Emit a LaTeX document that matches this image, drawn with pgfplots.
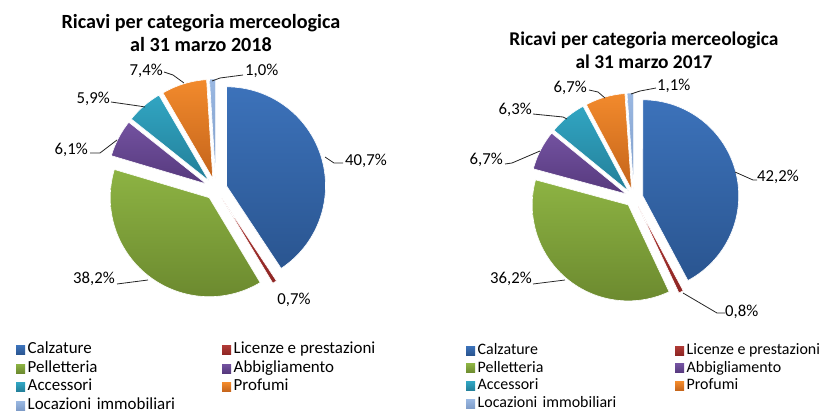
\documentclass[border=0pt]{standalone}
\usepackage{pgfplots}
\pgfplotsset{compat=1.18}
\usepackage{fontspec}
\setmainfont{Carlito}
\definecolor{c1t}{HTML}{3C72BA}\definecolor{c1b}{HTML}{2A5590}
\definecolor{c2t}{HTML}{B03A36}\definecolor{c2b}{HTML}{8E2624}
\definecolor{c3t}{HTML}{8DB343}\definecolor{c3b}{HTML}{6C8A2F}
\definecolor{c4t}{HTML}{7352A0}\definecolor{c4b}{HTML}{56397D}
\definecolor{c5t}{HTML}{31A5C2}\definecolor{c5b}{HTML}{237F99}
\definecolor{c6t}{HTML}{F28A2C}\definecolor{c6b}{HTML}{C4641B}
\definecolor{c7t}{HTML}{9AB8E2}\definecolor{c7b}{HTML}{7E9CC8}
\newcommand{\slice}[4]{%
  \pgfmathsetmacro{\aA}{\cum}%
  \pgfmathsetmacro{\aB}{\cum-3.6*#1}%
  \pgfmathsetmacro{\am}{(\aA+\aB)/2}%
  \pgfmathsetmacro{\sx}{\cx+\off*cos(\am)}%
  \pgfmathsetmacro{\sy}{\cy+\off*sin(\am)}%
  \edef\doslice{\noexpand\addplot[draw=white, line width=0.6bp, top color=#2, bottom color=#3, domain=\aB:\aA, samples=90, variable=\noexpand\t] ({\sx+\rad*cos(\noexpand\t)},{\sy+\rad*sin(\noexpand\t)}) -- (axis cs:\sx,\sy) -- cycle;}%
  \doslice
  \addlegendentry{#4}%
  \xdef\cum{\aB}%
}
\pgfplotsset{
  piebase/.style={x=1bp, y=1bp, xmin=0, xmax=829, ymin=0, ymax=412, hide axis, clip=false,
    legend columns=2, legend cell align=left,
    legend image code/.code={\path[##1, draw=none] (0bp,-4.5bp) rectangle (9bp,4.5bp);},
    legend style={draw=none, fill=none, inner sep=0pt, row sep=4bp, anchor=north west,
      nodes={inner xsep=2.5bp, inner ysep=0bp, text height=11bp, text depth=3.5bp}}},
  lead/.style={forget plot, black!85, line width=0.8bp}
}
\tikzset{
  lbl/.style={font=\fontsize{16.8}{19}\selectfont, inner sep=0pt}
}
\begin{document}
\begin{tikzpicture}
% ---------- 2018 ----------
\begin{axis}[piebase,
  legend style={at={(0.0193,0.1685)}, font=\fontsize{17}{19}\selectfont,
    /tikz/column 2/.append style={text width=192bp}}]
\def\cx{216}\def\cy{223}\def\rad{99}\def\off{11}\gdef\cum{90}
\slice{40.7}{c1t}{c1b}{Calzature}
\slice{0.7}{c2t}{c2b}{Licenze e prestazioni}
\slice{38.2}{c3t}{c3b}{Pelletteria}
\slice{6.1}{c4t}{c4b}{Abbigliamento}
\slice{5.9}{c5t}{c5b}{Accessori}
\slice{7.4}{c6t}{c6b}{Profumi}
\slice{1.0}{c7t}{c7b}{Locazioni immobiliari}
\addplot[lead] coordinates {(325,255) (334,249) (343,249)};
\addplot[lead] coordinates {(117,128) (148,132)};
\addplot[lead] coordinates {(90,259) (100,259) (117,272)};
\addplot[lead] coordinates {(111,310) (139,306) (145,305)};
\addplot[lead] coordinates {(164,340) (173,337) (184,329)};
\addplot[lead] coordinates {(212,331) (220,334) (243,337)};
\node[lbl, anchor=west] at (axis cs:345,251) {40,7\%};
\node[lbl, anchor=east] at (axis cs:115,133) {38,2\%};
\node[lbl] at (axis cs:294,112) {0,7\%};
\node[lbl, anchor=east] at (axis cs:88,262) {6,1\%};
\node[lbl, anchor=east] at (axis cs:110,313) {5,9\%};
\node[lbl, anchor=east] at (axis cs:163,341) {7,4\%};
\node[lbl, anchor=west] at (axis cs:245,341) {1,0\%};
\node[font=\bfseries\fontsize{20.2}{23.5}\selectfont, align=center, inner sep=0pt]
  at (axis cs:201,379) {Ricavi per categoria merceologica\\al 31 marzo 2018};
\end{axis}
% ---------- 2017 ----------
\begin{axis}[piebase,
  legend style={at={(0.5621,0.1672)}, font=\fontsize{16}{19}\selectfont, row sep=3.3bp,
    /tikz/column 2/.append style={text width=195bp}}]
\def\cx{634}\def\cy{214}\def\rad{96}\def\off{9}\gdef\cum{90}
\slice{42.2}{c1t}{c1b}{Calzature}
\slice{0.8}{c2t}{c2b}{Licenze e prestazioni}
\slice{36.2}{c3t}{c3b}{Pelletteria}
\slice{6.7}{c4t}{c4b}{Abbigliamento}
\slice{6.3}{c5t}{c5b}{Accessori}
\slice{6.7}{c6t}{c6b}{Profumi}
\slice{1.1}{c7t}{c7b}{Locazioni immobiliari}
\addplot[lead] coordinates {(735,240) (753,232) (757,232)};
\addplot[lead] coordinates {(533,128) (565,132)};
\addplot[lead] coordinates {(683,119) (717,99) (725,99)};
\addplot[lead] coordinates {(505,248) (512,249) (540,261)};
\addplot[lead] coordinates {(533,298) (563,295) (567,293)};
\addplot[lead] coordinates {(589,322) (598,320) (605,314)};
\addplot[lead] coordinates {(631,318) (640,321) (656,324)};
\node[lbl, anchor=west] at (axis cs:757,235) {42,2\%};
\node[lbl, anchor=east] at (axis cs:532,133) {36,2\%};
\node[lbl, anchor=west] at (axis cs:725,100) {0,8\%};
\node[lbl, anchor=east] at (axis cs:503,252) {6,7\%};
\node[lbl, anchor=east] at (axis cs:532,302) {6,3\%};
\node[lbl, anchor=east] at (axis cs:587,324) {6,7\%};
\node[lbl, anchor=west] at (axis cs:657,326) {1,1\%};
\node[font=\bfseries\fontsize{19.5}{23.5}\selectfont, align=center, inner sep=0pt]
  at (axis cs:644,362) {Ricavi per categoria merceologica\\al 31 marzo 2017};
\end{axis}
\pgfresetboundingbox
\path (0,0) rectangle (829bp,412bp);
\end{tikzpicture}
\end{document}
